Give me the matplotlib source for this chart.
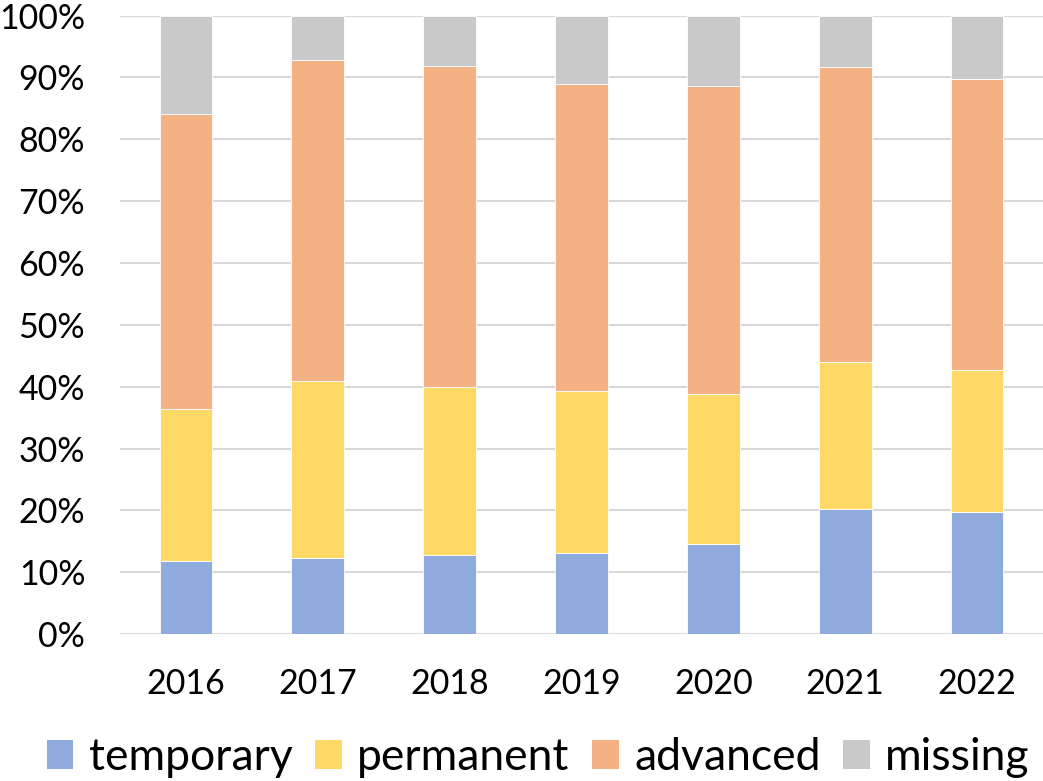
import numpy as np
import matplotlib
matplotlib.use("Agg")
import matplotlib.pyplot as plt
from matplotlib.patches import Patch
from matplotlib.ticker import PercentFormatter

plt.rcParams['font.family'] = ['Lato', 'DejaVu Sans']

years = ["2016", "2017", "2018", "2019", "2020", "2021", "2022"]
temporary = [11.9, 12.3, 12.8, 13.1, 14.5, 20.3, 19.8]
permanent = [24.5, 28.7, 27.1, 26.2, 24.4, 23.7, 22.9]
advanced = [47.7, 51.8, 51.9, 49.6, 49.7, 47.7, 47.1]
missing = [15.9, 7.2, 8.2, 11.1, 11.4, 8.3, 10.2]

labels = ["temporary", "permanent", "advanced", "missing"]
colors = ["#8FAADC", "#FFD966", "#F4B183", "#C9C9C9"]

fig = plt.figure(figsize=(10.43, 7.81), dpi=100)
ax = fig.add_axes([0.115, 0.188, 0.885, 0.792])

x = np.arange(len(years))
bottom = np.zeros(len(years))
for vals, c in zip([temporary, permanent, advanced, missing], colors):
    ax.bar(x, vals, width=0.4, bottom=bottom, color=c,
           edgecolor="white", linewidth=0.6, zorder=2)
    bottom += np.array(vals)

ax.set_xlim(-0.5, len(years) - 0.5)
ax.set_ylim(0, 100)
ax.set_yticks(np.arange(0, 101, 10))
ax.yaxis.set_major_formatter(PercentFormatter(decimals=0))
ax.set_xticks(x)
ax.set_xticklabels(years)
ax.tick_params(axis="both", length=0, labelsize=24.5)
ax.tick_params(axis="x", pad=24)
ax.tick_params(axis="y", pad=25)
ax.grid(axis="y", color="#D9D9D9", linewidth=1.5, zorder=0)
ax.set_axisbelow(True)
for sp in ax.spines.values():
    sp.set_visible(False)

handles = [Patch(facecolor=c, label=l) for c, l in zip(colors, labels)]
fig.legend(handles=handles, loc="center", bbox_to_anchor=(0.516, 0.03),
           ncol=4, frameon=False, fontsize=32, handlelength=0.6,
           handleheight=0.6, handletextpad=0.35, columnspacing=0.5)

fig.savefig("out.png", dpi=100)
